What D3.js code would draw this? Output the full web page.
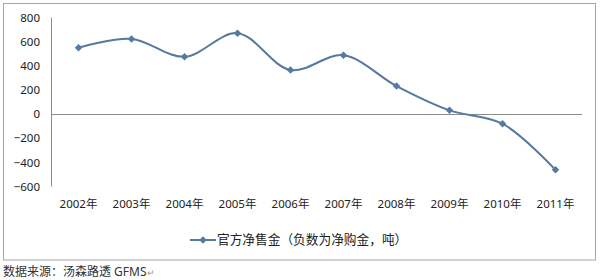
<!DOCTYPE html>
<html><head><meta charset="utf-8">
<script src="https://cdn.jsdelivr.net/npm/d3@7"></script>
<style>
html,body{margin:0;padding:0;background:#fff;}
svg{display:block;}
text{font-family:"Noto Sans","Noto Sans CJK SC",sans-serif;}
</style></head>
<body>
<svg id="c" width="600" height="280"></svg>
<script>
const categories = ["2002年","2003年","2004年","2005年","2006年","2007年","2008年","2009年","2010年","2011年"];
const values = [550, 622, 475, 670, 365, 487, 232, 31, -80, -462];
const yTicks = [800, 600, 400, 200, 0, -200, -400, -600];
const seriesName = "官方净售金（负数为净购金，吨）";
const sourceText = "数据来源：汤森路透 GFMS";

const svg = d3.select("#c");
const lineColor = "#55799f";
const axisColor = "#8c8c8c";
const textColor = "#222";

// frame
svg.append("rect").attr("x",3.5).attr("y",3.5).attr("width",592).attr("height",256.5)
  .attr("fill","none").attr("stroke","#a6a6a6").attr("stroke-width",1);

const x = d3.scaleBand().domain(categories).range([52, 582]);
const y = d3.scaleLinear().domain([-600, 800]).range([186.5, 17.5]);

// y axis line
svg.append("line").attr("x1",51.5).attr("x2",51.5).attr("y1",y(800)).attr("y2",y(-600))
  .attr("stroke",axisColor).attr("stroke-width",1);
// zero line
svg.append("line").attr("x1",51.5).attr("x2",582).attr("y1",Math.round(y(0))+0.5).attr("y2",Math.round(y(0))+0.5)
  .attr("stroke",axisColor).attr("stroke-width",1);

// y labels
const yAxis = d3.axisLeft(y).tickValues(yTicks).tickSize(0).tickPadding(0);
const gy = svg.append("g").attr("transform","translate(40,0)").call(yAxis);
gy.select(".domain").remove();
gy.selectAll("text").attr("font-size","11.5px").attr("fill",textColor)
  .attr("font-family","'Noto Sans',sans-serif");

// x labels
const xAxis = d3.axisBottom(x).tickSize(0).tickPadding(0);
const gx = svg.append("g").attr("transform","translate(0,200)").call(xAxis);
gx.select(".domain").remove();
gx.selectAll("text").attr("font-size","11.5px").attr("fill",textColor)
  .attr("font-family","'Noto Sans','Noto Sans CJK SC',sans-serif");

// line
const cx = d => x(d) + x.bandwidth()/2;
const data = categories.map((c,i)=>({c, v: values[i]}));
const line = d3.line().x(d=>cx(d.c)).y(d=>y(d.v)).curve(d3.curveCatmullRom.alpha(0.5));
svg.append("path").datum(data).attr("d",line).attr("fill","none")
  .attr("stroke",lineColor).attr("stroke-width",2);

const diamond = d3.symbol().type(d3.symbolDiamond2).size(36);
svg.selectAll(".pt").data(data).join("path").attr("class","pt")
  .attr("transform",d=>`translate(${cx(d.c)},${y(d.v)})`)
  .attr("d",diamond).attr("fill",lineColor);

// legend
const ly = 240;
svg.append("line").attr("x1",190).attr("x2",216).attr("y1",ly).attr("y2",ly)
  .attr("stroke",lineColor).attr("stroke-width",2);
svg.append("path").attr("transform",`translate(203,${ly})`).attr("d",diamond).attr("fill",lineColor);
svg.append("text").attr("x",217).attr("y",ly).attr("dy","0.35em")
  .attr("font-size","12.7px").attr("fill",textColor)
  .attr("font-family","'Noto Sans CJK SC',sans-serif").text(seriesName);

// source
const st = svg.append("text").attr("x",3).attr("y",271.5).attr("dy","0.35em")
  .attr("font-size","12px").attr("fill","#333")
  .attr("font-family","'Noto Sans CJK SC','Noto Sans',sans-serif");
st.append("tspan").text(sourceText);
st.append("tspan").attr("fill","#999").attr("font-size","9px").text("↵");
</script>
</body></html>
